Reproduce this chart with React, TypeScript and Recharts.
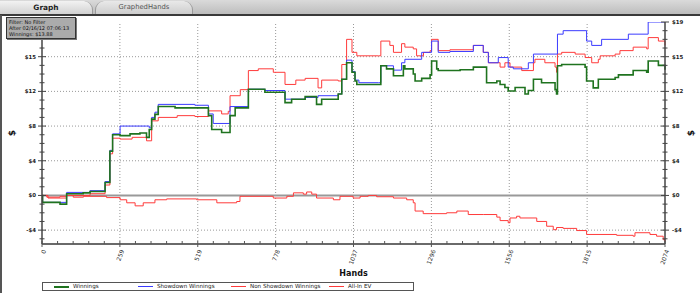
import React from 'react';
import { LineChart, Line, XAxis, YAxis, ReferenceLine, Legend } from 'recharts';

const FONT = '"DejaVu Sans", Verdana, sans-serif';
const TOTAL_HANDS = 2074;
const X_MINOR_STEPS = 40;
const xTickLabels = ['0', '259', '519', '778', '1037', '1296', '1556', '1815', '2074'];
const xTicks = Array.from({ length: X_MINOR_STEPS + 1 }, (_, i) => (i * TOTAL_HANDS) / X_MINOR_STEPS);
const xGridValues = xTicks.filter((_, i) => i % 5 === 0 && i > 0 && i < X_MINOR_STEPS);

const Y_DOMAIN: [number, number] = [-5.6, 20];
const yTickValues = [-4, 0, 4, 8, 12, 16, 20];
const yTickLabels = ['-$4', '$0', '$4', '$8', '$12', '$15', '$19'];
// the left axis' top label is covered by the filter box in the reference
const yLeftTickLabels = ['-$4', '$0', '$4', '$8', '$12', '$15', ''];
const yMinorTicks = Array.from({ length: 26 }, (_, i) => i - 5);
const yGridValues = [-4, 4, 8, 12, 16];

const filterLines = ['Filter: No Filter', 'After 02/16/12 07:06:13', 'Winnings: $13.88'];

// Winnings (green)
const winningsHands = [0, 2, 60, 82, 137, 160, 210, 226, 235, 260, 293, 326, 348, 357, 365, 376, 387, 443, 509, 554, 565, 598, 626, 643, 687, 742, 809, 831, 876, 914, 931, 986, 998, 1014, 1032, 1042, 1048, 1120, 1128, 1147, 1170, 1203, 1208, 1236, 1242, 1264, 1292, 1297, 1314, 1319, 1392, 1436, 1480, 1514, 1525, 1541, 1552, 1575, 1608, 1619, 1636, 1663, 1708, 1713, 1716, 1730, 1808, 1813, 1835, 1852, 1908, 1919, 1968, 2013, 2018, 2052, 2074];
const winningsValues = [0, -0.8, -1.0, 0.2, 0.3, 0.45, 1.5, 5.1, 7.0, 6.9, 7.1, 7.2, 6.7, 7.6, 8.8, 9.35, 10.25, 10.1, 10.1, 9.2, 7.6, 7.25, 9.2, 10.1, 12.25, 11.9, 10.7, 11.1, 11.4, 10.5, 11.1, 11.7, 13.4, 15.3, 14.2, 13.2, 12.8, 12.8, 14.95, 14.6, 13.8, 14.95, 14.6, 14.0, 13.2, 13.5, 13.9, 15.5, 14.6, 14.4, 14.5, 14.8, 13.0, 13.2, 12.8, 12.45, 12.05, 12.45, 11.7, 12.1, 13.4, 13.0, 12.2, 11.7, 14.95, 15.1, 14.8, 13.2, 12.4, 13.4, 13.6, 13.9, 14.4, 14.2, 15.5, 15.0, 14.5];

// Showdown Winnings (blue)
const showdownHands = [0, 2, 82, 160, 210, 226, 235, 260, 348, 357, 365, 376, 387, 509, 554, 570, 626, 687, 742, 809, 876, 919, 986, 998, 1014, 1032, 1042, 1055, 1120, 1128, 1170, 1197, 1208, 1264, 1297, 1319, 1358, 1436, 1469, 1486, 1519, 1552, 1569, 1619, 1636, 1716, 1735, 1813, 1830, 1863, 1952, 2018, 2074];
const showdownValues = [0, -0.8, 0.35, 0.55, 1.6, 5.2, 7.1, 8.0, 8.0, 7.8, 9.0, 9.6, 10.5, 10.4, 9.4, 8.3, 10.25, 12.25, 12.1, 11.1, 11.3, 11.5, 11.7, 13.4, 15.6, 14.3, 13.3, 13.0, 13.0, 14.95, 14.45, 15.3, 15.7, 16.5, 17.8, 16.5, 16.6, 17.3, 16.5, 15.3, 15.9, 14.8, 14.6, 15.3, 16.3, 18.6, 19.0, 17.8, 17.3, 18.0, 18.6, 20.0, 20.0];

// Non Showdown Winnings (red, lower)
const nonShowdownHands = [0, 16, 60, 82, 104, 138, 215, 260, 282, 310, 337, 376, 415, 515, 582, 648, 659, 770, 815, 837, 870, 881, 898, 914, 970, 992, 1036, 1059, 1086, 1114, 1170, 1214, 1236, 1242, 1269, 1347, 1381, 1419, 1469, 1514, 1525, 1552, 1558, 1580, 1591, 1647, 1680, 1702, 1713, 1735, 1780, 1813, 1913, 1968, 1974, 2024, 2046, 2068, 2074];
const nonShowdownValues = [0, -0.2, -0.1, 0.0, -0.2, -0.1, -0.25, -0.5, -0.85, -1.2, -0.85, -0.5, -0.4, -0.5, -0.85, -0.7, -0.1, -0.3, -0.1, 0.3, 0.15, 0.4, 0.15, -0.3, -0.5, -0.1, -0.3, -0.1, 0.0, -0.15, -0.3, -0.5, -0.85, -1.8, -2.1, -2.0, -1.8, -2.2, -2.2, -2.5, -2.9, -3.15, -2.6, -2.4, -2.6, -3.0, -3.55, -3.95, -3.7, -3.8, -4.05, -4.5, -4.6, -4.7, -4.3, -4.5, -4.7, -5.1, -5.35];

// All-In EV (red, upper)
const allInHands = [0, 20, 82, 160, 210, 226, 235, 260, 300, 348, 365, 387, 450, 509, 554, 598, 620, 626, 660, 687, 720, 770, 809, 845, 876, 919, 931, 986, 998, 1014, 1032, 1048, 1120, 1128, 1158, 1170, 1197, 1208, 1236, 1247, 1270, 1292, 1297, 1319, 1358, 1436, 1469, 1486, 1525, 1541, 1558, 1597, 1636, 1641, 1674, 1708, 1713, 1716, 1730, 1775, 1808, 1830, 1852, 1858, 1908, 1924, 1968, 2013, 2018, 2052, 2074];
const allInValues = [0, -0.3, 0.0, 0.2, 1.2, 4.8, 6.6, 6.5, 6.7, 6.3, 8.6, 9.0, 9.2, 9.1, 9.75, 9.4, 9.7, 11.5, 12.2, 14.4, 14.6, 14.2, 12.8, 13.3, 13.5, 12.4, 13.3, 13.2, 15.1, 18.0, 16.5, 16.1, 16.1, 17.8, 17.3, 16.5, 17.5, 17.1, 16.9, 16.1, 16.5, 16.7, 18.0, 16.7, 16.8, 17.3, 16.5, 15.3, 14.8, 15.3, 14.8, 14.4, 15.3, 15.7, 15.3, 14.8, 14.2, 16.3, 16.5, 16.3, 15.9, 15.3, 15.7, 16.1, 16.3, 16.7, 17.1, 16.9, 18.2, 17.8, 17.3];

const GREEN = '#1f731f';
const BLUE = '#3b3bff';
const RED = '#ff3b3b';

const toPoints = (hands: number[], values: number[]) => hands.map((h, i) => ({ hand: h, value: values[i] }));

const legendItems = [
  { name: 'Winnings', color: GREEN, width: 2, left: 11 },
  { name: 'Showdown Winnings', color: BLUE, width: 1, left: 95 },
  { name: 'Non Showdown Winnings', color: RED, width: 1, left: 188 },
  { name: 'All-In EV', color: RED, width: 1, left: 286 },
];

const tickIndex = (v: number) => Math.round((v * X_MINOR_STEPS) / TOTAL_HANDS);

const BottomTick = (props: any) => {
  const { x, y, payload } = props;
  const i = tickIndex(payload.value);
  const major = i % 5 === 0;
  const label = major ? xTickLabels[i / 5] : null;
  const tx = x + 2.5;
  const ty = y + 6;
  return (
    <g>
      <line x1={x} x2={x} y1={y - 3} y2={major ? y + 3 : y} stroke="#555" strokeWidth={1} />
      {label && (
        <text x={tx} y={ty} dy={2} transform={`rotate(-70 ${tx} ${ty})`} textAnchor="end" fontSize={6} fontFamily={FONT} fill="#333">
          {label}
        </text>
      )}
    </g>
  );
};

const TopTick = (props: any) => {
  const { x, y } = props;
  return <line x1={x} x2={x} y1={y} y2={y + 3} stroke="#555" strokeWidth={1} />;
};

const makeYTick = (side: 'left' | 'right') => (props: any) => {
  const { x, y, payload } = props;
  const v = payload.value;
  const idx = yTickValues.indexOf(v);
  const major = idx >= 0;
  const half = major ? 4 : 2.5;
  const label = major ? (side === 'left' ? yLeftTickLabels[idx] : yTickLabels[idx]) : '';
  return (
    <g>
      <line x1={x - half} x2={x + half} y1={y} y2={y} stroke="#444" strokeWidth={1} />
      {label && (
        <text
          x={side === 'left' ? x - 6 : x + 7}
          y={y}
          dy={2}
          textAnchor={side === 'left' ? 'end' : 'start'}
          fontSize={5.4}
          fontWeight="bold"
          fontFamily={FONT}
          fill="#222"
        >
          {label}
        </text>
      )}
    </g>
  );
};
const LeftTick = makeYTick('left');
const RightTick = makeYTick('right');

const DollarLabel = (offsetX: number) => (props: any) => {
  const vb = props.viewBox || {};
  const cx = vb.x + offsetX;
  const cy = vb.y + vb.height / 2;
  return (
    <text x={cx} y={cy} dy={3} transform={`rotate(-90 ${cx} ${cy})`} textAnchor="middle" fontSize={9} fontWeight="bold" fontFamily={FONT} fill="#111">
      $
    </text>
  );
};

const HandsLabel = (props: any) => {
  const vb = props.viewBox || {};
  return (
    <text x={vb.x + vb.width / 2} y={vb.y + 32} textAnchor="middle" fontSize={8} fontWeight="bold" fontFamily={FONT} fill="#111">
      Hands
    </text>
  );
};

const LegendBox = () => (
  <div
    style={{
      position: 'relative',
      width: 372,
      height: 9,
      border: '1px solid #555',
      boxSizing: 'border-box',
      background: '#fff',
      fontFamily: FONT,
      fontSize: 5.6,
      color: '#222',
    }}
  >
    {legendItems.map((it) => (
      <div key={it.name} style={{ position: 'absolute', left: it.left, top: 0, height: 7, whiteSpace: 'nowrap' }}>
        <div style={{ position: 'absolute', left: 0, top: 3.5 - it.width / 2, width: 15, height: it.width, background: it.color }} />
        <span style={{ position: 'absolute', left: 19, top: 0, lineHeight: '7px' }}>{it.name}</span>
      </div>
    ))}
  </div>
);

export default function App() {
  return (
    <div style={{ position: 'absolute', left: 0, top: 0, width: 700, height: 293, overflow: 'hidden', background: '#fff' }}>
      <LineChart width={700} height={293} margin={{ top: 22, right: 5, bottom: 0, left: 8 }}>
        <XAxis
          xAxisId="bottom"
          dataKey="hand"
          type="number"
          domain={[0, TOTAL_HANDS]}
          ticks={xTicks}
          interval={0}
          tickSize={0}
          tickMargin={0}
          tick={<BottomTick />}
          tickLine={false}
          axisLine={{ stroke: '#6a6a6a', strokeWidth: 2 }}
          height={49}
          label={<HandsLabel />}
        />
        <XAxis
          xAxisId="top"
          orientation="top"
          dataKey="hand"
          type="number"
          domain={[0, TOTAL_HANDS]}
          ticks={xTicks}
          interval={0}
          tickSize={0}
          tickMargin={0}
          tick={<TopTick />}
          tickLine={false}
          axisLine={false}
          height={0}
        />
        <YAxis
          yAxisId="left"
          type="number"
          domain={Y_DOMAIN}
          allowDataOverflow
          ticks={yMinorTicks}
          interval={0}
          tickSize={0}
          tickMargin={0}
          tick={<LeftTick />}
          tickLine={false}
          axisLine={{ stroke: '#444', strokeWidth: 1.5 }}
          width={34}
          label={DollarLabel(4) as any}
        />
        <YAxis
          yAxisId="right"
          orientation="right"
          type="number"
          domain={Y_DOMAIN}
          allowDataOverflow
          ticks={yMinorTicks}
          interval={0}
          tickSize={0}
          tickMargin={0}
          tick={<RightTick />}
          tickLine={false}
          axisLine={{ stroke: '#444', strokeWidth: 1.5 }}
          width={30}
          label={DollarLabel(26) as any}
        />
        {xGridValues.map((v) => (
          <ReferenceLine key={`vx${v}`} xAxisId="bottom" yAxisId="left" x={v} stroke="#999" strokeDasharray="1 2" />
        ))}
        {yGridValues.map((v) => (
          <ReferenceLine key={`hy${v}`} xAxisId="bottom" yAxisId="left" y={v} stroke="#999" strokeDasharray="1 2" />
        ))}
        <ReferenceLine xAxisId="bottom" yAxisId="left" y={0} stroke="#999" strokeWidth={2} />
        <Line xAxisId="bottom" yAxisId="left" name="Non Showdown Winnings" data={toPoints(nonShowdownHands, nonShowdownValues)} dataKey="value" type="stepAfter" stroke={RED} strokeWidth={1} dot={false} isAnimationActive={false} />
        <Line xAxisId="bottom" yAxisId="left" name="All-In EV" data={toPoints(allInHands, allInValues)} dataKey="value" type="stepAfter" stroke={RED} strokeWidth={1} dot={false} isAnimationActive={false} />
        <Line xAxisId="bottom" yAxisId="left" name="Showdown Winnings" data={toPoints(showdownHands, showdownValues)} dataKey="value" type="stepAfter" stroke={BLUE} strokeWidth={1} dot={false} isAnimationActive={false} />
        <Line xAxisId="bottom" yAxisId="left" name="Winnings" data={toPoints(winningsHands, winningsValues)} dataKey="value" type="stepAfter" stroke={GREEN} strokeWidth={1.6} dot={false} isAnimationActive={false} />
        <Legend
          content={() => <LegendBox />}
          wrapperStyle={{ position: 'absolute', left: 42, top: 282, width: 372, height: 0, margin: 0, padding: 0 }}
        />
      </LineChart>

      {/* tab bar */}
      <div style={{ position: 'absolute', left: 0, top: 0, width: 700, height: 14, background: 'linear-gradient(#dadada, #bdbdbd)' }} />
      <div
        style={{
          position: 'absolute', left: 0, top: 1, width: 92, height: 13,
          background: 'linear-gradient(#f2f2f2, #d2d2d2)', borderTopRightRadius: 9, borderRight: '1px solid #9a9a9a',
          fontFamily: FONT, fontSize: 7.4, fontWeight: 'bold', color: '#222', textAlign: 'center', lineHeight: '13px',
        }}
      >
        Graph
      </div>
      <div
        style={{
          position: 'absolute', left: 95, top: 1, width: 96, height: 13,
          background: 'linear-gradient(#e9e9e9, #cdcdcd)', borderTopLeftRadius: 9, borderTopRightRadius: 9,
          borderLeft: '1px solid #9a9a9a', borderRight: '1px solid #9a9a9a',
          fontFamily: FONT, fontSize: 6.8, color: '#555', textAlign: 'center', lineHeight: '13px',
        }}
      >
        GraphedHands
      </div>
      <div style={{ position: 'absolute', left: 0, top: 14, width: 700, height: 2, background: '#3a3a3a' }} />
      <div style={{ position: 'absolute', left: 0, top: 15, width: 2, height: 278, background: '#555' }} />

      {/* filter info box */}
      <div
        style={{
          position: 'absolute', left: 6, top: 17, width: 70, height: 22, boxSizing: 'border-box',
          background: '#ababab', border: '1px solid #333', boxShadow: '1px 1px 0 #777',
          fontFamily: FONT, fontSize: 5, lineHeight: '6px', color: '#111', padding: '1px 0 0 2px', whiteSpace: 'nowrap',
        }}
      >
        {filterLines.map((t) => (
          <div key={t}>{t}</div>
        ))}
      </div>
    </div>
  );
}
